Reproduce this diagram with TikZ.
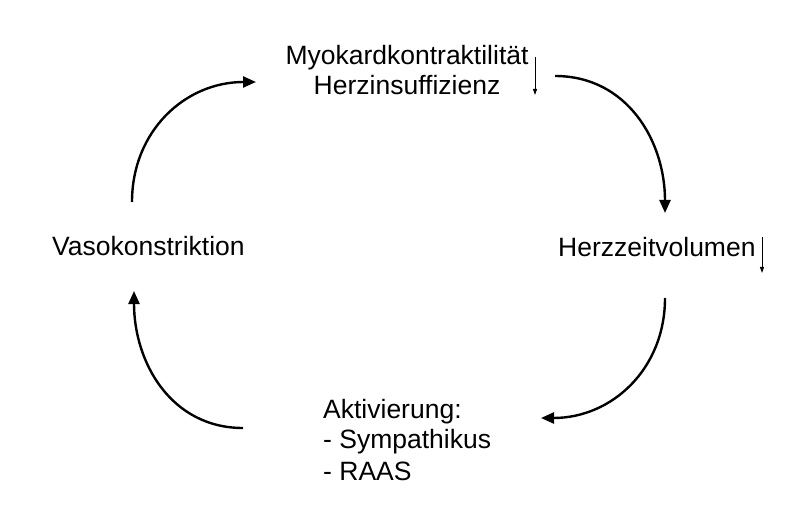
\documentclass[tikz,border=0pt]{standalone}
\usepackage{fontspec}
\setmainfont{Liberation Sans}
\usetikzlibrary{arrows.meta}
\begin{document}
\begin{tikzpicture}[x=1pt,y=-1pt,
  lbl/.style={inner sep=0pt,font=\fontsize{26.5}{30.5}\selectfont},
  cyc/.style={line width=2.4pt,-{Triangle[length=13pt,width=11pt]}},
  small/.style={line width=0.9pt,-{Triangle[length=6pt,width=4pt]}}]
\useasboundingbox (0,0) rectangle (802,518);
\fill[white] (0,0) rectangle (802,518);
% texts
\node[lbl,anchor=base] (myo) at (407,65) {Myokardkontraktilität};
\node[lbl,anchor=base] (hi) at (407,95) {Herzinsuffizienz};
\node[lbl,anchor=base west] (hzv) at (558,257) {Herzzeitvolumen};
\node[lbl,anchor=base west] (vaso) at (52,256) {Vasokonstriktion};
\node[lbl,anchor=base west] (akt) at (323,418) {Aktivierung:};
\node[lbl,anchor=base west] (sym) at (323,448) {- Sympathikus};
\node[lbl,anchor=base west] (raas) at (323,480) {- RAAS};
% small down arrows
\coordinate (s1a) at (535,57);
\coordinate (s1b) at (535,95);
\coordinate (s2a) at (762,237);
\coordinate (s2b) at (762,273);
\draw[small] (s1a) -- (s1b);
\draw[small] (s2a) -- (s2b);
% cycle arcs
\coordinate (a1s) at (555,76);
\coordinate (a1e) at (665,213);
\coordinate (a2s) at (665,298);
\coordinate (a2e) at (541,418);
\coordinate (a3s) at (243,428);
\coordinate (a3e) at (134,291);
\coordinate (a4s) at (132,202);
\coordinate (a4e) at (256,82);
\draw[cyc] (a1s) to[out=0,in=90,looseness=1.05] (a1e);
\draw[cyc] (a2s) to[out=-90,in=0,looseness=1.05] (a2e);
\draw[cyc] (a3s) to[out=180,in=-90,looseness=1.05] (a3e);
\draw[cyc] (a4s) to[out=90,in=180,looseness=1.05] (a4e);
\end{tikzpicture}
\end{document}
